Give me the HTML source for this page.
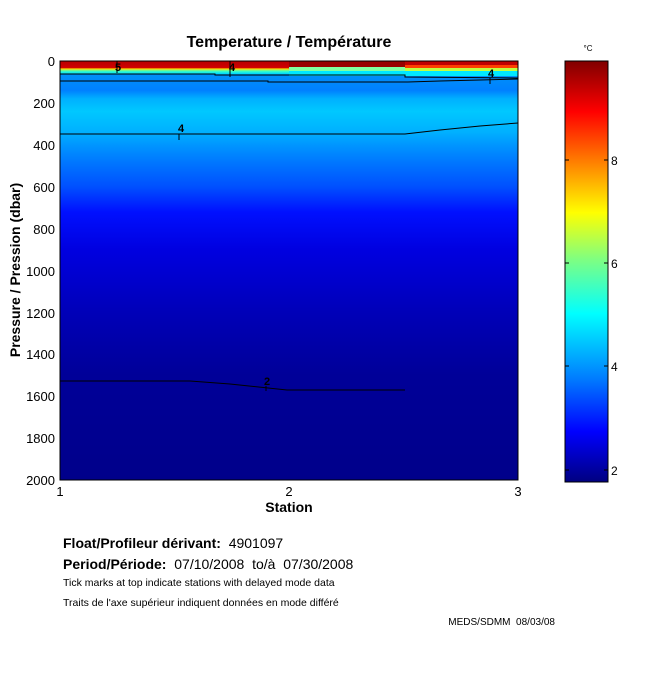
<!DOCTYPE html><html><head><style>body{margin:0;background:#fff}svg{display:block;font-family:"Liberation Sans",sans-serif}</style></head><body>
<svg width="650" height="680" viewBox="0 0 650 680">
<defs>
<linearGradient id="L" x1="0" y1="61" x2="0" y2="480" gradientUnits="userSpaceOnUse">
<stop offset="0" stop-color="#b80000"/><stop offset="0.016" stop-color="#d00000"/><stop offset="0.019" stop-color="#ffe000"/><stop offset="0.024" stop-color="#40ffc0"/><stop offset="0.03" stop-color="#00e0ff"/><stop offset="0.033" stop-color="#0090f8"/><stop offset="0.07" stop-color="#0080ff"/><stop offset="0.09" stop-color="#00b0ff"/><stop offset="0.12" stop-color="#00c8ff"/><stop offset="0.17" stop-color="#00b0ff"/><stop offset="0.2" stop-color="#0096ff"/><stop offset="0.24" stop-color="#0078ff"/><stop offset="0.3" stop-color="#0050ff"/><stop offset="0.36" stop-color="#0010ff"/><stop offset="0.45" stop-color="#0000e0"/><stop offset="0.6" stop-color="#0000b8"/><stop offset="0.75" stop-color="#000098"/><stop offset="1" stop-color="#00008a"/>
</linearGradient>
<linearGradient id="C" x1="0" y1="0" x2="0" y2="1">
<stop offset="0" stop-color="#800000"/><stop offset="0.12" stop-color="#ff0000"/><stop offset="0.36" stop-color="#ffff00"/><stop offset="0.47" stop-color="#80ff80"/><stop offset="0.6" stop-color="#00ffff"/><stop offset="0.75" stop-color="#0080ff"/><stop offset="0.88" stop-color="#0000ff"/><stop offset="1" stop-color="#000080"/>
</linearGradient>
</defs>
<text x="289" y="47" text-anchor="middle" font-size="16" font-weight="bold">Temperature / Température</text>
<rect x="60" y="61" width="458" height="419" fill="url(#L)"/>
<rect x="289" y="61" width="229" height="6" fill="#980000"/>
<rect x="405" y="61" width="113" height="4" fill="#c00000"/>
<rect x="405" y="65" width="113" height="3" fill="#ff4000"/>
<rect x="405" y="68" width="113" height="3" fill="#c0ff40"/>
<rect x="289" y="67" width="116" height="4" fill="#80ffa0"/>
<rect x="289" y="71" width="229" height="5" fill="#00e8ff"/>
<g stroke="#000" fill="none" stroke-width="1">
<polyline points="60,74 215,74 215,75 405,75 405,77 518,78"/>
<polyline points="60,81 268,81 268,82 408,82 440,81 480,80 518,79"/>
<polyline points="60,134 405,134 440,130 480,126 518,123"/>
<polyline points="60,381 190,381 230,384 287,390 405,390"/>
<line x1="117" y1="61" x2="117" y2="73"/><line x1="230" y1="61" x2="230" y2="77"/><line x1="179" y1="134" x2="179" y2="140"/><line x1="490" y1="78" x2="490" y2="84"/><line x1="266" y1="386" x2="266" y2="391"/>
</g>
<g font-size="11" font-weight="bold"><text x="115" y="71">5</text><text x="229" y="71">4</text><text x="178" y="132">4</text><text x="488" y="77">4</text><text x="264" y="385">2</text></g>
<rect x="60" y="61" width="458" height="419" fill="none" stroke="#000"/>
<g font-size="13" text-anchor="end">
<text x="55" y="66">0</text><text x="55" y="108">200</text><text x="55" y="150">400</text><text x="55" y="192">600</text><text x="55" y="234">800</text><text x="55" y="276">1000</text><text x="55" y="318">1200</text><text x="55" y="359">1400</text><text x="55" y="401">1600</text><text x="55" y="443">1800</text><text x="55" y="485">2000</text></g>
<g font-size="13" text-anchor="middle"><text x="60" y="496">1</text><text x="289" y="496">2</text><text x="518" y="496">3</text></g>
<text x="289" y="512" text-anchor="middle" font-size="14" font-weight="bold">Station</text>
<text transform="translate(20,270) rotate(-90)" text-anchor="middle" font-size="14" font-weight="bold">Pressure / Pression (dbar)</text>
<rect x="565" y="61" width="43" height="421" fill="url(#C)" stroke="#000"/>
<g stroke="#000"><line x1="565" y1="160" x2="569" y2="160"/><line x1="604" y1="160" x2="608" y2="160"/><line x1="565" y1="263" x2="569" y2="263"/><line x1="604" y1="263" x2="608" y2="263"/><line x1="565" y1="366" x2="569" y2="366"/><line x1="604" y1="366" x2="608" y2="366"/><line x1="565" y1="470" x2="569" y2="470"/><line x1="604" y1="470" x2="608" y2="470"/></g>
<g font-size="12"><text x="611" y="165">8</text><text x="611" y="268">6</text><text x="611" y="371">4</text><text x="611" y="475">2</text></g>
<text x="588" y="51" text-anchor="middle" font-size="8">°C</text>
<text x="63" y="548" font-size="14" xml:space="preserve"><tspan font-weight="bold">Float/Profileur dérivant:</tspan>  4901097</text>
<text x="63" y="569" font-size="14" xml:space="preserve"><tspan font-weight="bold">Period/Période:</tspan>  07/10/2008  to/à  07/30/2008</text>
<text x="63" y="586" font-size="10.5">Tick marks at top indicate stations with delayed mode data</text>
<text x="63" y="606" font-size="10.5">Traits de l'axe supérieur indiquent données en mode différé</text>
<text x="555" y="625" text-anchor="end" font-size="10" xml:space="preserve">MEDS/SDMM  08/03/08</text>
</svg></body></html>
